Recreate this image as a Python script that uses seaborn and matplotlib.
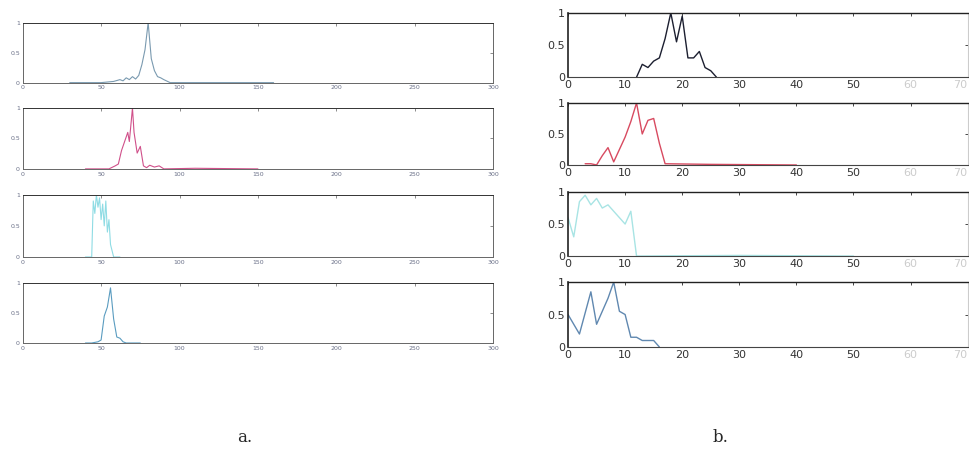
"""
Eight normalised histograms: panel a (0-300 range) and panel b (0-70 range).
"""

import pandas as pd
import matplotlib
matplotlib.use("Agg")
import matplotlib.pyplot as plt
import seaborn as sns

# ---------------------------------------------------------------------------
# Data
# ---------------------------------------------------------------------------
# panel a, four rows
a1_x = [30, 50, 58, 62, 64, 66, 68, 70, 72, 74, 76, 78, 80, 82, 84, 86, 88, 90, 94, 100, 160]
a1_y = [0, 0, 0.02, 0.05, 0.03, 0.08, 0.05, 0.1, 0.06, 0.12, 0.3, 0.55, 1.0, 0.4, 0.2, 0.1, 0.08, 0.05, 0.0, 0, 0]
a2_x = [40, 55, 59, 61, 63, 65, 67, 68, 70, 71, 73, 75, 77, 79, 81, 84, 87, 90, 110, 150]
a2_y = [0, 0, 0.05, 0.08, 0.3, 0.45, 0.6, 0.45, 1.0, 0.6, 0.26, 0.37, 0.05, 0.02, 0.06, 0.03, 0.05, 0.0, 0.01, 0]
a3_x = [40, 44, 45, 46, 47, 48, 49, 50, 51, 52, 53, 54, 55, 56, 57, 58, 62]
a3_y = [0, 0, 0.9, 0.7, 1.0, 0.8, 0.95, 0.6, 0.85, 0.5, 0.9, 0.4, 0.6, 0.2, 0.1, 0, 0]
a4_x = [40, 44, 48, 50, 52, 54, 56, 58, 60, 62, 64, 66, 75]
a4_y = [0, 0, 0.02, 0.05, 0.45, 0.6, 0.92, 0.4, 0.1, 0.08, 0.02, 0, 0]

# panel b, four rows
b1_x = [12, 13, 14, 15, 16, 17, 18, 19, 20, 21, 22, 23, 24, 25, 26]
b1_y = [0, 0.2, 0.15, 0.25, 0.3, 0.6, 1.0, 0.55, 0.95, 0.3, 0.3, 0.4, 0.15, 0.1, 0]
b2_x = [3, 4, 5, 6, 7, 8, 9, 10, 11, 12, 13, 14, 15, 16, 17, 25, 40]
b2_y = [0.02, 0.02, 0, 0.15, 0.28, 0.05, 0.25, 0.45, 0.7, 1.0, 0.5, 0.72, 0.75, 0.35, 0.02, 0.01, 0.0]
b3_x = [0, 1, 2, 3, 4, 5, 6, 7, 8, 9, 10, 11, 12, 30, 50]
b3_y = [0.6, 0.3, 0.85, 0.95, 0.8, 0.9, 0.75, 0.8, 0.7, 0.6, 0.5, 0.7, 0.0, 0.01, 0.0]
b4_x = [0, 2, 4, 5, 7, 8, 9, 10, 11, 12, 13, 14, 15, 16]
b4_y = [0.5, 0.2, 0.85, 0.35, 0.75, 1.0, 0.55, 0.5, 0.15, 0.15, 0.1, 0.1, 0.1, 0]

a_series = [(a1_x, a1_y), (a2_x, a2_y), (a3_x, a3_y), (a4_x, a4_y)]
b_series = [(b1_x, b1_y), (b2_x, b2_y), (b3_x, b3_y), (b4_x, b4_y)]

a_colors = ["#7a9ab0", "#d0508a", "#8fdce4", "#5a9cc0"]
b_colors = ["#1c1f30", "#d84a60", "#a8e4e4", "#6088b0"]

a_xticks = [0, 50, 100, 150, 200, 250, 300]
b_xticks = [0, 10, 20, 30, 40, 50, 60, 70]
yticks = [0, 0.5, 1]

# axes boxes [left, bottom, width, height] in figure fractions
a_boxes = [
    [0.0234, 0.818, 0.485, 0.132],
    [0.0234, 0.628, 0.485, 0.134],
    [0.0234, 0.434, 0.485, 0.137],
    [0.0234, 0.2445, 0.485, 0.132],
]
b_boxes = [
    [0.5856, 0.830, 0.412, 0.1416],
    [0.5856, 0.6366, 0.412, 0.1366],
    [0.5856, 0.436, 0.412, 0.141],
    [0.5856, 0.2357, 0.412, 0.143],
]

sns.set_style("white")
plt.rcParams["font.family"] = ["DejaVu Sans"]

fig = plt.figure(figsize=(9.7, 4.54), dpi=100)

# ---------------------------------------------------------------------------
# Panel a
# ---------------------------------------------------------------------------
for (xs, ys), col, box in zip(a_series, a_colors, a_boxes):
    ax = fig.add_axes(box)
    df = pd.DataFrame({"x": xs, "y": ys})
    sns.lineplot(data=df, x="x", y="y", ax=ax, color=col, linewidth=0.8)
    ax.set_xlim(0, 300)
    ax.set_ylim(0, 1)
    ax.set_xticks(a_xticks)
    ax.set_yticks(yticks)
    ax.set_yticklabels(["0", "0.5", "1"])
    ax.set_xlabel("")
    ax.set_ylabel("")
    ax.tick_params(direction="in", length=2, width=0.6, top=True, right=True,
                   labelsize=4.5, labelcolor="#6a7088", pad=2, colors="#777777")
    for side, sp in ax.spines.items():
        sp.set_color("#666666")
        sp.set_linewidth(0.7)
    ax.spines["top"].set_color("#333333")

# ---------------------------------------------------------------------------
# Panel b
# ---------------------------------------------------------------------------
for (xs, ys), col, box in zip(b_series, b_colors, b_boxes):
    ax = fig.add_axes(box)
    df = pd.DataFrame({"x": xs, "y": ys})
    sns.lineplot(data=df, x="x", y="y", ax=ax, color=col, linewidth=1.0)
    ax.set_xlim(0, 70)
    ax.set_ylim(0, 1)
    ax.set_xticks(b_xticks)
    ax.set_yticks(yticks)
    ax.set_yticklabels(["0", "0.5", "1"])
    ax.set_xlabel("")
    ax.set_ylabel("")
    ax.tick_params(direction="in", length=2.5, width=0.7, top=True, right=True,
                   labelsize=8, labelcolor="#333333", pad=2, colors="#444444")
    # faded right end of the scan
    xlabels = ax.get_xticklabels()
    for lbl in xlabels[-2:]:
        lbl.set_color("#cccccc")
    xlabels[-1].set_horizontalalignment("right")
    ax.spines["left"].set_color("#222222")
    ax.spines["left"].set_linewidth(1.2)
    ax.spines["top"].set_color("#222222")
    ax.spines["top"].set_linewidth(1.0)
    ax.spines["bottom"].set_color("#444444")
    ax.spines["right"].set_color("#cccccc")

fig.text(0.2526, 0.037, "a.", fontsize=12, family="DejaVu Serif", ha="center", va="center")
fig.text(0.7423, 0.037, "b.", fontsize=12, family="DejaVu Serif", ha="center", va="center")

fig.savefig("out.png", dpi=100)
plt.close(fig)
